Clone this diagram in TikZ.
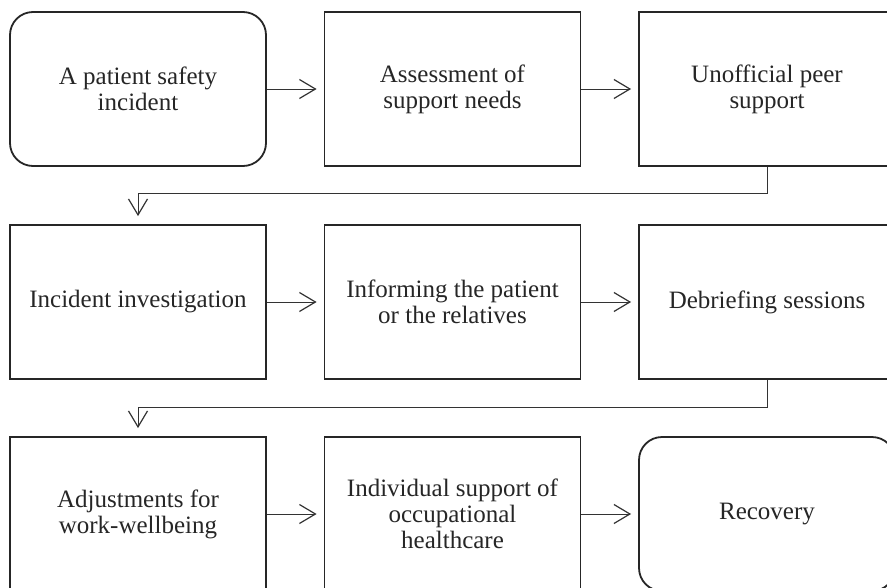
\documentclass[tikz,border=0pt]{standalone}
\usepackage{fontspec}
\setmainfont{Liberation Serif}
\usetikzlibrary{arrows.meta}
\begin{document}
\begin{tikzpicture}[x=1pt,y=-1pt,
  box/.style={draw=black!85, line width=1.8pt, minimum width=256pt, minimum height=154pt,
    inner sep=0pt, align=center, font=\fontsize{25}{26}\selectfont, text=black!85},
  rbox/.style={box, rounded corners=23pt},
  conn/.style={draw=black!80, line width=1pt,
    -{Straight Barb[length=16pt,width=19pt,line width=1.2pt]}, shorten >=7pt}]
\useasboundingbox (0,0) rectangle (887,587);
\node[rbox] (a) at (138,89) {A patient safety\\incident};
\node[box] (b) at (452.5,89) {Assessment of\\support needs};
\node[box] (c) at (767,89) {Unofficial peer\\support};
\node[box] (d) at (138,302) {Incident investigation};
\node[box] (e) at (452.5,302) {Informing the patient\\or the relatives};
\node[box] (f) at (767,302) {Debriefing sessions};
\node[box] (g) at (138,514) {Adjustments for\\work-wellbeing};
\node[box] (h) at (452.5,514) {Individual support of\\occupational\\healthcare};
\node[rbox] (i) at (767,514) {Recovery};
\draw[conn] (a.east) -- (b.west);
\draw[conn] (b.east) -- (c.west);
\draw[conn, shorten >=8pt] (c.south) -- ++(0,27) -| (d.north);
\draw[conn] (d.east) -- (e.west);
\draw[conn] (e.east) -- (f.west);
\draw[conn, shorten >=8pt] (f.south) -- ++(0,28) -| (g.north);
\draw[conn] (g.east) -- (h.west);
\draw[conn] (h.east) -- (i.west);
\end{tikzpicture}
\end{document}
